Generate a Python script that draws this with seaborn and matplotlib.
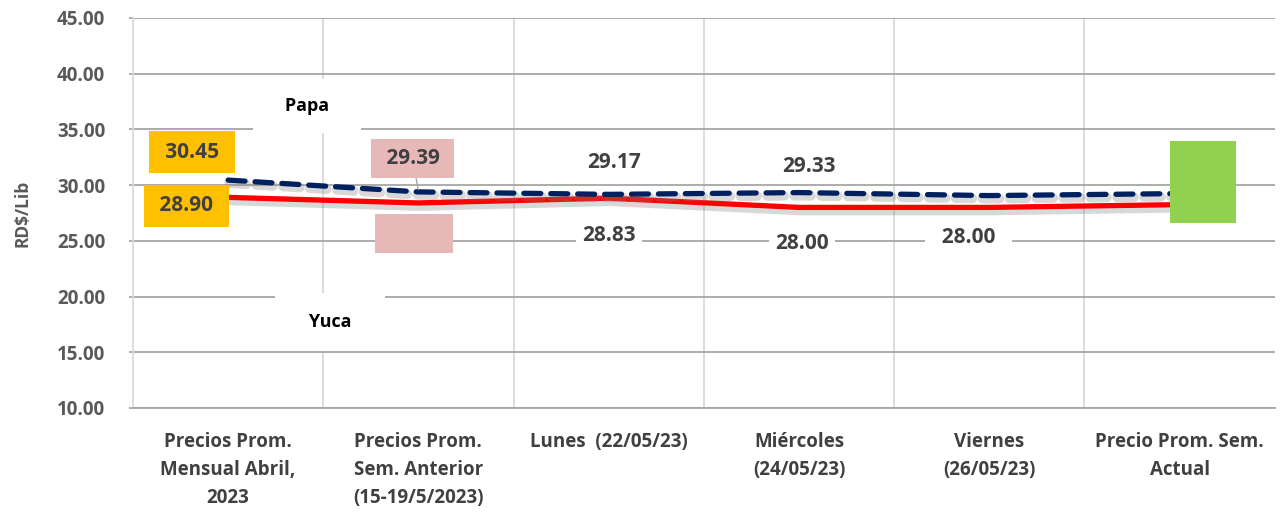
import numpy as np
import pandas as pd
import matplotlib
matplotlib.use('Agg')
import matplotlib.pyplot as plt
import matplotlib.patheffects as pe
import seaborn as sns

categorias = ["Precios Prom.\nMensual Abril,\n2023",
              "Precios Prom.\nSem. Anterior\n(15-19/5/2023)",
              "Lunes  (22/05/23)",
              "Miércoles\n(24/05/23)",
              "Viernes\n(26/05/23)",
              "Precio Prom. Sem.\nActual"]
papa = [30.45, 29.39, 29.17, 29.33, 29.06, 29.24]
yuca = [28.90, 28.40, 28.83, 28.00, 28.00, 28.25]
y_ticks = [10, 15, 20, 25, 30, 35, 40, 45]

sns.set_theme(style='white')
plt.rcParams['font.family'] = ['Open Sans', 'DejaVu Sans']

df = pd.DataFrame({'x': np.arange(len(categorias)), 'Papa': papa, 'Yuca': yuca})

fig = plt.figure(figsize=(12.85, 5.13), dpi=100)
ax = fig.add_axes([0.1035, 0.2047, 0.8885, 0.7603])

shadow = [pe.SimpleLineShadow(offset=(0.8, -2.2), shadow_color='#7f7f7f', alpha=0.3, linewidth=7),
          pe.Normal()]
sns.lineplot(data=df, x='x', y='Yuca', ax=ax, color='#ff0000', lw=3.8,
             solid_capstyle='butt', path_effects=shadow, zorder=3)
sns.lineplot(data=df, x='x', y='Papa', ax=ax, color='#002060', lw=3.8,
             zorder=4, path_effects=shadow)
ax.lines[-1].set_dashes([3.2, 1.9])
ax.lines[-1].set_dash_capstyle('round')

ax.set_xlim(-0.5, len(categorias) - 0.5)
ax.set_ylim(10, 45)
ax.set_yticks(y_ticks)
ax.set_yticklabels([f"{v:.2f}" for v in y_ticks], fontsize=13.5, fontweight='bold', color='#595959')
ax.set_xticks(df['x'])
ax.set_xticklabels(categorias, fontsize=13.5, fontweight='bold', color='#404040', linespacing=1.55)
ax.set_xticks(np.arange(0.5, len(categorias) - 0.5, 1), minor=True)
ax.set_xlabel('')
ax.set_ylabel('RD$/Lib', fontsize=12.5, fontweight='bold', color='#595959', labelpad=18)

ax.grid(axis='y', color='#a6a6a6', lw=1.3, zorder=0)
ax.grid(axis='x', which='minor', color='#d9d9d9', lw=1.3, zorder=0)
ax.tick_params(axis='x', which='both', length=0, pad=17)
ax.tick_params(axis='y', length=3, color='#a6a6a6', direction='out', left=True, pad=17)
for s in ['top', 'right']:
    ax.spines[s].set_visible(False)
ax.spines['left'].set_color('#d9d9d9')
ax.spines['bottom'].set_color('#a6a6a6')
ax.spines['bottom'].set_linewidth(1.3)

lbl = dict(fontsize=15, fontweight='bold', color='#404040', ha='center', va='center', zorder=6)
white = dict(boxstyle='square,pad=0.3', fc='white', ec='none')
orange = dict(boxstyle='square,pad=0.5', fc='#ffc000', ec='none')
pink = dict(boxstyle='square,pad=0.45', fc='#e6b8b7', ec='none')

# first category
ax.annotate(f" {papa[0]:.2f} ", (0, papa[0]), xytext=(-26, 20), textcoords='offset points', bbox=orange, **lbl)
ax.annotate(f" {yuca[0]:.2f} ", (0, yuca[0]), xytext=(-30, -6), textcoords='offset points', bbox=orange, **lbl)
# second category
ax.annotate(f" {papa[1]:.2f} ", (1, papa[1]), xytext=(-4, 24), textcoords='offset points', bbox=pink,
            arrowprops=dict(arrowstyle='-', color='#a6a6a6', lw=1, shrinkA=0, shrinkB=2), **lbl)
ax.annotate("           ", (1, yuca[1]), xytext=(-3, -22), textcoords='offset points', bbox=pink, **lbl)
# other days
ax.annotate(f"{papa[2]:.2f}", (2, papa[2]), xytext=(4, 23), textcoords='offset points', bbox=white, **lbl)
ax.annotate(f"{yuca[2]:.2f}", (2, yuca[2]), xytext=(0, -27), textcoords='offset points', bbox=white, **lbl)
ax.annotate(f"{papa[3]:.2f}", (3, papa[3]), xytext=(7, 19), textcoords='offset points', bbox=white, **lbl)
ax.annotate(f"{yuca[3]:.2f}", (3, yuca[3]), xytext=(2, -26), textcoords='offset points', bbox=white, **lbl)
ax.annotate(f"  {yuca[4]:.2f}  ", (4, yuca[4]), xytext=(-15, -22), textcoords='offset points', bbox=white, **lbl)
ax.annotate("          \n \n ", (5, yuca[5]), xytext=(17, 16), textcoords='offset points',
            bbox=dict(boxstyle='square,pad=0.3', fc='#92d050', ec='none'), **lbl)

# series names
ax.annotate("   Papa   ", (0.414, 37.1), fontsize=13, fontweight='bold', color='black', ha='center',
            va='center', bbox=dict(boxstyle='square,pad=1.0', fc='white', ec='none'), zorder=6)
ax.annotate("   Yuca   ", (0.535, 17.7), fontsize=13, fontweight='bold', color='black', ha='center',
            va='center', bbox=dict(boxstyle='square,pad=1.1', fc='white', ec='none'), zorder=6)

fig.savefig('out.png', dpi=100)
